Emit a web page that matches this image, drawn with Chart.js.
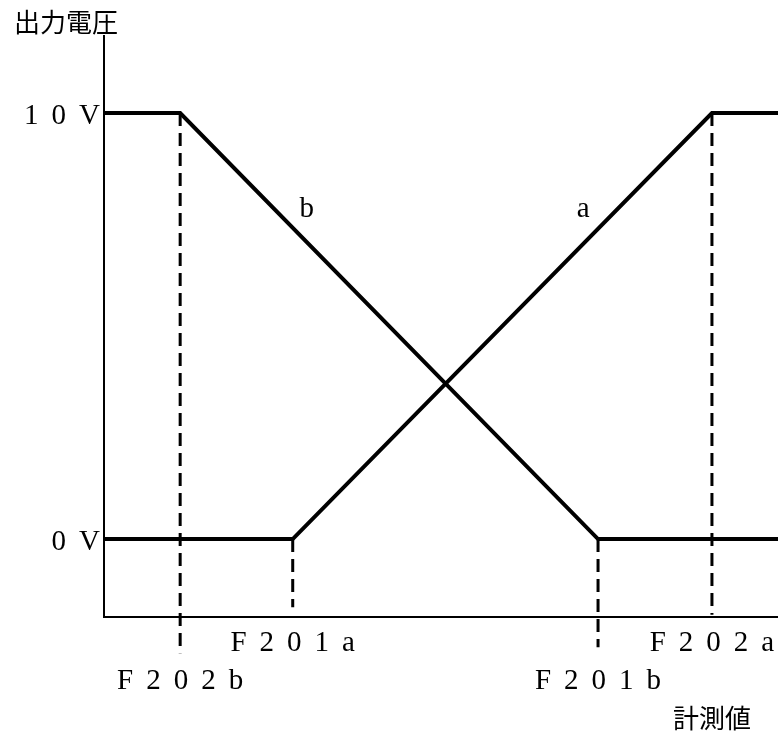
<!DOCTYPE html>
<html>
<head>
    <meta charset="utf-8">
    <title>出力電圧 - 計測値</title>
    <style>
        html, body { margin: 0; padding: 0; background: #fff; }
        .chart-box { width: 778px; height: 735px; position: relative; }
    </style>
</head>
<body>
    <div class="chart-box">
        <canvas id="outputChart"></canvas>
    </div>

    <script src="https://cdn.jsdelivr.net/npm/chart.js"></script>
    <script>
        // measured values (x in arbitrary units 0..100, y in volts)
        const xRange = [0, 100];
        const yRange = [-1.83, 11.81];

        const voltTicks = [10, 0];
        const voltLabels = ['10V', '0V'];

        const pointNames = ['F202b', 'F201a', 'F201b', 'F202a'];
        const pointValues = [11.3, 28.0, 73.3, 90.2];
        const dashTop = [10, 0, 0, 10];
        const dashBottom = [-2.68, -1.6, -2.54, -1.78];
        const labelRow = [2, 1, 2, 1];

        const seriesAX = [0, 28.0, 90.2, 100];
        const seriesAY = [0, 0, 10, 10];
        const seriesBX = [0, 11.3, 73.3, 100];
        const seriesBY = [10, 10, 0, 0];

        const serifFont = '29px "Liberation Serif", serif';
        const cjkFont = '26px "Noto Sans CJK JP", sans-serif';

        function toPoints(xs, ys) {
            return xs.map((x, i) => ({ x: x, y: ys[i] }));
        }

        function spacedText(ctx, text, cx, baseline, spacing) {
            ctx.letterSpacing = '0px';
            const w0 = ctx.measureText(text).width;
            const w = w0 + spacing * (text.length - 1);
            ctx.letterSpacing = spacing + 'px';
            ctx.textAlign = 'left';
            ctx.fillText(text, cx - w / 2, baseline);
            ctx.letterSpacing = '0px';
        }

        const labelPlugin = {
            id: 'labels',
            afterDraw(chart) {
                const ctx = chart.ctx;
                const xs = chart.scales.x;
                const ys = chart.scales.y;
                const area = chart.chartArea;
                ctx.save();
                ctx.fillStyle = '#000';
                ctx.textBaseline = 'alphabetic';
                ctx.font = serifFont;

                // volt labels, right aligned to the axis
                voltLabels.forEach((lab, i) => {
                    ctx.letterSpacing = '0px';
                    const w = ctx.measureText(lab).width + 13 * (lab.length - 1);
                    spacedText(ctx, lab, area.left - 4 - w / 2, ys.getPixelForValue(voltTicks[i]) + 11, 13);
                });

                // measurement point labels
                pointNames.forEach((name, i) => {
                    const base = labelRow[i] === 1 ? area.bottom + 34 : area.bottom + 72;
                    spacedText(ctx, name, xs.getPixelForValue(pointValues[i]), base, 13);
                });

                // line names
                spacedText(ctx, 'b', xs.getPixelForValue(30.1), ys.getPixelForValue(7.56), 0);
                spacedText(ctx, 'a', xs.getPixelForValue(71.1), ys.getPixelForValue(7.56), 0);

                // axis titles
                ctx.font = cjkFont;
                ctx.textBaseline = 'middle';
                ctx.textAlign = 'center';
                ctx.fillText('出力電圧', 66, 22);
                ctx.fillText('計測値', 712, 718);
                ctx.restore();
            }
        };

        const dashSets = pointValues.map((v, i) => ({
            data: [{ x: v, y: dashTop[i] }, { x: v, y: dashBottom[i] }],
            borderColor: '#000',
            borderWidth: 3,
            borderDash: [13, 7],
            borderCapStyle: 'butt',
            pointRadius: 0,
            clip: false,
            order: 2
        }));

        const ctx = document.getElementById('outputChart').getContext('2d');
        new Chart(ctx, {
            type: 'line',
            data: {
                datasets: [
                    {
                        label: 'a',
                        data: toPoints(seriesAX, seriesAY),
                        borderColor: '#000',
                        borderWidth: 4,
                        borderJoinStyle: 'miter',
                        borderCapStyle: 'butt',
                        pointRadius: 0,
                        tension: 0,
                        clip: false,
                        order: 1
                    },
                    {
                        label: 'b',
                        data: toPoints(seriesBX, seriesBY),
                        borderColor: '#000',
                        borderWidth: 4,
                        borderJoinStyle: 'miter',
                        borderCapStyle: 'butt',
                        pointRadius: 0,
                        tension: 0,
                        clip: false,
                        order: 1
                    },
                    ...dashSets
                ]
            },
            options: {
                responsive: true,
                maintainAspectRatio: false,
                devicePixelRatio: 1,
                animation: false,
                layout: {
                    padding: { left: 104, top: 36, right: 0, bottom: 118 }
                },
                plugins: {
                    legend: { display: false },
                    tooltip: { enabled: false }
                },
                scales: {
                    x: {
                        type: 'linear',
                        min: xRange[0],
                        max: xRange[1],
                        grid: { display: false, drawTicks: false },
                        ticks: { display: false },
                        border: { display: true, color: '#000', width: 2 }
                    },
                    y: {
                        type: 'linear',
                        min: yRange[0],
                        max: yRange[1],
                        grid: { display: false, drawTicks: false },
                        ticks: { display: false },
                        border: { display: true, color: '#000', width: 2 }
                    }
                }
            },
            plugins: [labelPlugin]
        });
    </script>
</body>
</html>
